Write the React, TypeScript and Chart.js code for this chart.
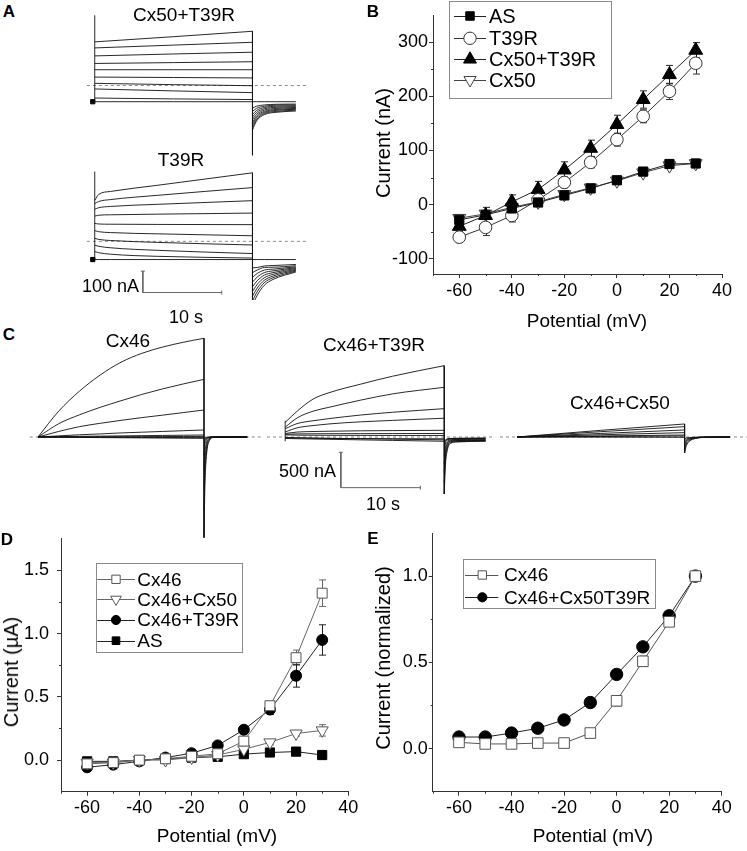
import React, { useEffect, useRef } from 'react';
import { Chart, registerables } from 'chart.js';
import { drawPoint } from 'chart.js/helpers';

Chart.register(...registerables);

const FONT = "'Liberation Sans', Arial, Helvetica, sans-serif";

// ================= DATA =================
const potentials = [-60, -50, -40, -30, -20, -10, 0, 10, 20, 30];
const xTicks = [-60, -40, -20, 0, 20, 40];
const xMinorTicks = [-70, -50, -30, -10, 10, 30];

// Panel B (nA)
const bYTicks = [-100, 0, 100, 200, 300];
const bYMinorTicks = [-50, 50, 150, 250];
const bAS = [-28, -19, -7, 4, 17, 30, 45, 61, 75, 76];
const bASErr = [4, 4, 3, 3, 3, 4, 4, 5, 5, 5];
const bT39R = [-60, -42, -20, 9, 41, 78, 120, 163, 209, 261];
const bT39RErr = [10, 15, 12, 8, 10, 10, 12, 12, 15, 20];
const bCx50T39R = [-40, -20, 5, 28, 64, 104, 148, 194, 240, 285];
const bCx50T39RErr = [10, 15, 13, 15, 15, 15, 17, 16, 17, 14];
const bCx50 = [-25, -17, -5, 5, 19, 31, 44, 59, 72, 76];
const bCx50Err = [5, 4, 3, 3, 3, 4, 4, 5, 5, 6];

// Panel D (µA)
const dYTicks = [0, 0.5, 1.0, 1.5];
const dYMinorTicks = [0.25, 0.75, 1.25];
const dCx46 = [-0.03, -0.02, 0.0, 0.01, 0.03, 0.05, 0.15, 0.43, 0.81, 1.32];
const dCx46Err = [0.01, 0.01, 0.01, 0.01, 0.01, 0.01, 0.03, 0.03, 0.06, 0.105];
const dCx46Cx50 = [-0.02, -0.02, 0.0, 0.0, 0.02, 0.04, 0.085, 0.14, 0.21, 0.235];
const dCx46Cx50Err = [0.01, 0.01, 0.01, 0.02, 0.02, 0.01, 0.02, 0.02, 0.02, 0.045];
const dCx46T39R = [-0.057, -0.036, -0.01, 0.02, 0.054, 0.116, 0.24, 0.40, 0.667, 0.95];
const dCx46T39RErr = [0.01, 0.01, 0.01, 0.01, 0.01, 0.02, 0.02, 0.04, 0.09, 0.12];
const dAS = [-0.01, -0.01, 0.0, 0.01, 0.02, 0.026, 0.047, 0.06, 0.067, 0.04];
const dASErr = [0.01, 0.01, 0.01, 0.01, 0.01, 0.01, 0.01, 0.01, 0.01, 0.01];

// Panel E (normalized)
const eYTicks = [0, 0.5, 1.0];
const eYMinorTicks = [0.25, 0.75];
const eCx46 = [0.036, 0.027, 0.027, 0.032, 0.032, 0.09, 0.277, 0.506, 0.735, 1.0];
const eCx46Err = [0.01, 0.01, 0.02, 0.02, 0.02, 0.01, 0.03, 0.03, 0.01, 0.01];
const eCx46Cx50T39R = [0.067, 0.067, 0.09, 0.118, 0.166, 0.267, 0.43, 0.59, 0.77, 1.0];
const eCx46Cx50T39RErr = [0.01, 0.01, 0.01, 0.01, 0.01, 0.01, 0.01, 0.01, 0.01, 0.01];

// Panel A traces (nA vs s)
const aTopPulseTimes = [0, 10, 20];
const aTopPulse = [
  [202, 226, 251],
  [174, 187, 200],
  [137, 146, 154],
  [102, 106, 110],
  [73, 73, 73],
  [39, 37, 35],
  [10, 4, -1],
  [-16, -25, -33],
  [-58, -62, -65],
  [-75, -75, -75],
];
const aTopTailTimes = [20, 20.5, 21.5, 23, 25.5];
const aTopTail = [
  [-206, -165, -135, -124, -118],
  [-195, -158, -130, -120, -114],
  [-182, -150, -125, -115, -110],
  [-170, -142, -120, -111, -106],
  [-158, -134, -114, -106, -102],
  [-146, -125, -108, -101, -98],
  [-134, -116, -102, -96, -94],
  [-120, -106, -96, -91, -90],
  [-105, -96, -90, -87, -86],
  [-75, -75, -75, -75, -75],
];
const aTopSpikes = [
  [[0, -75], [0, 325]],
  [[20, 251], [20, -323]],
];

const aBotPulseTimes = [0, 0.5, 2, 8, 20];
const aBotPulse = [
  [191, 219, 233, 262, 320],
  [176, 186, 195, 215, 251],
  [150, 157, 163, 173, 190],
  [118, 122, 124, 127, 132],
  [84, 81, 80, 79, 78],
  [50, 45, 41, 35, 26],
  [14, 9, 4, -5, -17],
  [-18, -23, -30, -42, -57],
  [-48, -53, -60, -70, -78],
  [-85, -85, -85, -85, -85],
];
const aBotTailTimes = [20, 20.6, 21.5, 22.6, 25.5];
const aBotTail = [
  [-300, -252, -205, -178, -143],
  [-278, -235, -193, -170, -139],
  [-256, -218, -182, -162, -135],
  [-234, -201, -170, -154, -131],
  [-212, -184, -158, -146, -127],
  [-190, -167, -146, -138, -123],
  [-168, -150, -134, -130, -119],
  [-146, -134, -122, -121, -114],
  [-124, -122, -115, -113, -108],
  [-85, -85, -85, -85, -85],
];
const aBotSpikes = [
  [[0, -85], [0, 326]],
  [[20, 320], [20, -326]],
];
const aScaleNA = 100;
const aScaleS = 10;

// Panel C traces (nA vs s)
const c46PulseTimes = [0, 2.5, 5, 7.5, 10, 12.5, 15, 17.5, 20];
const c46Pulse = [
  [0, 350, 620, 838, 1010, 1130, 1215, 1280, 1334],
  [0, 180, 300, 401, 490, 575, 650, 717, 779],
  [0, 75, 140, 185, 225, 262, 295, 330, 365],
  [0, 15, 30, 42, 55, 65, 75, 85, 95],
  [0, 5, 9, 12, 15, 18, 21, 24, 27],
  [0, 1, 2, 3, 4, 5, 6, 7, 8],
  [0, -2, -3, -4, -5, -6, -7, -8, -9],
  [0, -4, -6, -8, -10, -12, -14, -16, -18],
];
const c46TailTimes = [20, 20.1, 20.3, 20.6, 21.2, 25.2];
const c46Tail = [
  [-1360, -700, -250, -60, -5, 0],
  [-1000, -520, -190, -45, -4, 0],
  [-700, -360, -130, -30, -3, 0],
  [-450, -230, -80, -20, -2, 0],
  [-250, -120, -40, -10, -1, 0],
  [-120, -60, -20, -5, 0, 0],
  [-60, -30, -10, -3, 0, 0],
  [-30, -15, -5, -1, 0, 0],
];
const c46Spikes = [[[20, 1334], [20, -1360]]];

const c46T39RPulseTimes = [0, 1.5, 3.5, 5.5, 9.5, 13.5, 20];
const c46T39RPulse = [
  [207, 365, 536, 626, 748, 860, 1009],
  [140, 270, 365, 420, 522, 610, 703],
  [117, 190, 230, 260, 311, 350, 401],
  [72, 130, 162, 185, 215, 235, 266],
  [50, 70, 78, 82, 88, 91, 95],
  [40, 44, 46, 47, 48, 49, 50],
  [30, 27, 25, 24, 23, 22, 22],
  [-5, -10, -14, -18, -24, -30, -40],
  [-10, -14, -18, -20, -22, -24, -25],
  [-20, -24, -28, -32, -40, -48, -60],
];
const c46T39RTailTimes = [20, 20.15, 20.4, 20.8, 21.6, 25.2];
const c46T39RTail = [
  [-806, -400, -180, -90, -70, -60],
  [-650, -330, -150, -80, -65, -55],
  [-500, -260, -120, -70, -55, -50],
  [-380, -200, -95, -60, -50, -45],
  [-270, -150, -80, -50, -42, -40],
  [-180, -100, -60, -40, -35, -30],
  [-120, -70, -40, -30, -25, -22],
  [-80, -50, -30, -22, -20, -18],
  [-60, -40, -25, -20, -18, -15],
];
const c46T39RSpikes = [
  [[0, -60], [0, 230]],
  [[20, 1009], [20, -806]],
];
const cScaleNA = 500;
const cScaleS = 10;

const c46Cx50PulseTimes = [0, 10, 20];
const c46Cx50Pulse = [
  [0, 90, 176],
  [0, 72, 140],
  [0, 48, 95],
  [0, 30, 59],
  [0, 14, 27],
  [0, 7, 14],
  [0, -2, -4],
];
const c46Cx50TailTimes = [20, 20.2, 20.6, 21.3, 22.6, 25.4];
const c46Cx50Tail = [
  [-216, -120, -55, -20, -5, 0],
  [-170, -95, -45, -16, -4, 0],
  [-130, -70, -33, -12, -3, 0],
  [-90, -50, -24, -9, -2, 0],
  [-55, -30, -15, -6, -1, 0],
  [-25, -14, -7, -3, 0, 0],
];
const c46Cx50Spikes = [[[20, 176], [20, -216]]];

// ================= PLUGINS =================
function makeErrorBars() {
  return {
    id: 'errorBars',
    beforeDatasetsDraw(chart: any) {
      const ctx = chart.ctx;
      const xs = chart.scales.x;
      const ys = chart.scales.y;
      chart.data.datasets.forEach((ds: any) => {
        if (!ds.errors) return;
        ctx.save();
        ctx.strokeStyle = ds.borderColor;
        ctx.lineWidth = 1;
        ds.data.forEach((p: any, j: number) => {
          const e = ds.errors[j];
          if (!e) return;
          const px = Math.round(xs.getPixelForValue(p.x)) + 0.5;
          const y1 = ys.getPixelForValue(p.y + e);
          const y2 = ys.getPixelForValue(p.y - e);
          ctx.beginPath();
          ctx.moveTo(px, y1);
          ctx.lineTo(px, y2);
          ctx.moveTo(px - 3.5, y1);
          ctx.lineTo(px + 3.5, y1);
          ctx.moveTo(px - 3.5, y2);
          ctx.lineTo(px + 3.5, y2);
          ctx.stroke();
        });
        ctx.restore();
      });
    },
  };
}

function makeLegend(cfg: any) {
  return {
    id: 'boxLegend',
    afterDraw(chart: any) {
      const ctx = chart.ctx;
      ctx.save();
      const [bx, by, bw, bh] = cfg.box;
      ctx.strokeStyle = '#8a8a8a';
      ctx.lineWidth = 1;
      ctx.strokeRect(Math.round(bx) + 0.5, Math.round(by) + 0.5, Math.round(bw), Math.round(bh));
      chart.data.datasets.forEach((ds: any) => {
        if (ds.legendRow == null) return;
        const y = cfg.rows[ds.legendRow];
        ctx.strokeStyle = ds.borderColor;
        ctx.lineWidth = 1;
        ctx.beginPath();
        ctx.moveTo(cfg.line[0], Math.round(y) + 0.5);
        ctx.lineTo(cfg.line[1], Math.round(y) + 0.5);
        ctx.stroke();
        ctx.fillStyle = ds.pointBackgroundColor;
        ctx.strokeStyle = ds.pointBorderColor;
        ctx.lineWidth = 1;
        drawPoint(ctx, { pointStyle: ds.pointStyle, rotation: ds.pointRotation || 0, radius: ds.legendRadius, borderWidth: 1 }, cfg.markerX, y);
        ctx.fillStyle = '#000';
        ctx.font = `${cfg.fontSize}px ${FONT}`;
        ctx.textBaseline = 'middle';
        ctx.textAlign = 'left';
        ctx.fillText(ds.label, cfg.textX, y + 1);
      });
      ctx.restore();
    },
  };
}

function makeMinorTicks(xVals: number[], yVals: number[], len: number) {
  return {
    id: 'minorTicks',
    afterDraw(chart: any) {
      const ctx = chart.ctx;
      const xs = chart.scales.x;
      const ys = chart.scales.y;
      const area = chart.chartArea;
      ctx.save();
      ctx.strokeStyle = '#333';
      ctx.lineWidth = 1;
      ctx.beginPath();
      xVals.forEach((v) => {
        const px = Math.round(xs.getPixelForValue(v)) + 0.5;
        ctx.moveTo(px, area.bottom);
        ctx.lineTo(px, area.bottom + len);
      });
      yVals.forEach((v) => {
        const py = Math.round(ys.getPixelForValue(v)) + 0.5;
        ctx.moveTo(area.left, py);
        ctx.lineTo(area.left - len, py);
      });
      ctx.stroke();
      ctx.restore();
    },
  };
}

// ================= CONFIG BUILDERS =================
function pts(times: number[], vals: number[]) {
  return times.map((t, i) => ({ x: t, y: vals[i] }));
}

function ivSeries(label: string, values: number[], errors: number[], style: any) {
  return {
    label,
    data: pts(potentials, values),
    errors,
    showLine: true,
    borderWidth: 1,
    tension: 0,
    pointBorderWidth: 1,
    ...style,
    pointHoverRadius: style.pointRadius,
  };
}

function ivConfig(o: any) {
  const tickFont = { family: FONT, size: 18 };
  const gridOpts = { display: true, drawOnChartArea: false, drawTicks: true, tickLength: 4, tickColor: '#333', tickWidth: 1 };
  return {
    type: 'line',
    data: { datasets: o.datasets },
    options: {
      responsive: false,
      animation: false,
      devicePixelRatio: 1,
      events: [],
      layout: { padding: o.padding },
      plugins: { legend: { display: false }, tooltip: { enabled: false } },
      scales: {
        x: {
          type: 'linear',
          min: o.xMin,
          max: o.xMax,
          afterFit: (s: any) => { s.height = o.xAxisHeight; },
          afterBuildTicks: (s: any) => { s.ticks = xTicks.map((v) => ({ value: v })); },
          ticks: { font: tickFont, color: '#000', padding: 2, maxRotation: 0, autoSkip: false, callback: (v: any) => String(v) },
          grid: gridOpts,
          border: { display: true, color: '#333', width: 1 },
        },
        y: {
          type: 'linear',
          min: o.yMin,
          max: o.yMax,
          afterFit: (s: any) => { s.width = o.yAxisWidth; },
          afterBuildTicks: (s: any) => { s.ticks = o.yTicks.map((v: number) => ({ value: v })); },
          ticks: { font: tickFont, color: '#000', padding: o.yPad, autoSkip: false, callback: (v: any) => Number(v).toFixed(o.yDec) },
          grid: gridOpts,
          border: { display: true, color: '#333', width: 1 },
        },
      },
    },
    plugins: [makeErrorBars(), makeMinorTicks(xMinorTicks, o.minorY, 2), makeLegend(o.legend)],
  };
}

function traceRange(geo: any, t0x: number, pxPerS: number, zeroY: number, pxPerUnit: number) {
  return {
    tmin: (geo.left - t0x) / pxPerS,
    tmax: (geo.left + geo.width - t0x) / pxPerS,
    ymax: (zeroY - geo.top) / pxPerUnit,
    ymin: (zeroY - geo.top - geo.height) / pxPerUnit,
  };
}

function traceConfig(o: any) {
  const ds: any[] = [];
  const line = { borderColor: '#111', borderWidth: 0.9, pointRadius: 0, fill: false };
  o.pulses.forEach((v: number[]) => ds.push({ ...line, cubicInterpolationMode: 'monotone', data: pts(o.pulseTimes, v) }));
  o.tails.forEach((v: number[]) => ds.push({ ...line, cubicInterpolationMode: 'monotone', data: pts(o.tailTimes, v) }));
  o.spikes.forEach((s: number[][]) => ds.push({ ...line, tension: 0, data: s.map(([x, y]) => ({ x, y })) }));
  if (o.scaleBar) {
    const { t, i, dI, dT } = o.scaleBar;
    ds.push({ borderColor: '#666', borderWidth: 1, pointRadius: 0, tension: 0, data: [{ x: t, y: i + dI }, { x: t, y: i }, { x: t + dT, y: i }] });
    ds.push({ showLine: false, pointStyle: 'line', pointRadius: 2, pointBorderColor: '#666', pointBorderWidth: 1, data: [{ x: t, y: i + dI }] });
    ds.push({ showLine: false, pointStyle: 'line', pointRotation: 90, pointRadius: 2, pointBorderColor: '#666', pointBorderWidth: 1, data: [{ x: t + dT, y: i }] });
  }
  if (o.holdMark) {
    ds.push({ showLine: false, pointStyle: 'rect', pointRadius: 3, pointBackgroundColor: '#000', pointBorderColor: '#000', data: [{ x: o.holdMark[0], y: o.holdMark[1] }] });
  }
  ds.push({ borderColor: '#8c8c8c', borderWidth: 1, borderDash: [3, 3], pointRadius: 0, tension: 0, data: [{ x: o.zeroFrom, y: 0 }, { x: o.zeroTo, y: 0 }] });
  const r = o.range;
  return {
    type: 'line',
    data: { datasets: ds },
    options: {
      responsive: false,
      animation: false,
      devicePixelRatio: 1,
      events: [],
      layout: { padding: 0 },
      plugins: { legend: { display: false }, tooltip: { enabled: false } },
      scales: {
        x: { type: 'linear', display: false, min: r.tmin, max: r.tmax },
        y: { type: 'linear', display: false, min: r.ymin, max: r.ymax },
      },
    },
  };
}

// ================= LAYOUT =================
const geoATop = { left: 58, top: 0, width: 262, height: 165 };
const geoABot = { left: 58, top: 160, width: 262, height: 145 };
const geoC1 = { left: 20, top: 325, width: 242, height: 225 };
const geoC2 = { left: 262, top: 325, width: 238, height: 225 };
const geoC3 = { left: 500, top: 325, width: 247, height: 225 };
const geoB = { left: 372, top: 0, width: 375, height: 331 };
const geoD = { left: 0, top: 520, width: 372, height: 326 };
const geoE = { left: 372, top: 520, width: 375, height: 326 };

const rATop = traceRange(geoATop, 91, 8.2, 85.7, 0.23);
const rABot = traceRange(geoABot, 91, 8.2, 242, 0.23);
const rC1 = traceRange(geoC1, 38, 8.3, 437, 0.074);
const rC2 = traceRange(geoC2, 281, 8.3, 437, 0.074);
const rC3 = traceRange(geoC3, 517, 8.38, 437, 0.074);

function ChartBox({ geo, make }: any) {
  const ref = useRef<HTMLCanvasElement>(null);
  useEffect(() => {
    const chart = new Chart(ref.current as HTMLCanvasElement, make());
    return () => chart.destroy();
  }, []);
  return (
    <canvas
      ref={ref}
      width={geo.width}
      height={geo.height}
      style={{ position: 'absolute', left: geo.left, top: geo.top, width: geo.width, height: geo.height }}
    />
  );
}

function Txt({ x, y, children, size = 18, bold = false, align = 'center', rotate = false }: any) {
  const tx = align === 'center' ? '-50%' : align === 'right' ? '-100%' : '0';
  return (
    <div
      style={{
        position: 'absolute',
        left: x,
        top: y,
        transform: `translate(${tx}, -50%)${rotate ? ' rotate(-90deg)' : ''}`,
        fontFamily: FONT,
        fontSize: size,
        fontWeight: bold ? 700 : 400,
        lineHeight: 1,
        whiteSpace: 'nowrap',
        color: '#000',
      }}
    >
      {children}
    </div>
  );
}

const makeATop = () =>
  traceConfig({
    range: rATop,
    pulseTimes: aTopPulseTimes, pulses: aTopPulse,
    tailTimes: aTopTailTimes, tails: aTopTail,
    spikes: aTopSpikes,
    holdMark: [-0.25, -75],
    zeroFrom: -1, zeroTo: 26.8,
  });

const makeABot = () =>
  traceConfig({
    range: rABot,
    pulseTimes: aBotPulseTimes, pulses: aBotPulse,
    tailTimes: aBotTailTimes, tails: aBotTail,
    spikes: aBotSpikes,
    holdMark: [-0.25, -85],
    scaleBar: { t: 6.1, i: -239, dI: aScaleNA, dT: aScaleS },
    zeroFrom: -1, zeroTo: 26.8,
  });

const makeC1 = () =>
  traceConfig({
    range: rC1,
    pulseTimes: c46PulseTimes, pulses: c46Pulse,
    tailTimes: c46TailTimes, tails: c46Tail,
    spikes: c46Spikes,
    zeroFrom: -1, zeroTo: rC1.tmax,
  });

const makeC2 = () =>
  traceConfig({
    range: rC2,
    pulseTimes: c46T39RPulseTimes, pulses: c46T39RPulse,
    tailTimes: c46T39RTailTimes, tails: c46T39RTail,
    spikes: c46T39RSpikes,
    scaleBar: { t: 7.0, i: -716, dI: cScaleNA, dT: cScaleS },
    zeroFrom: rC2.tmin, zeroTo: rC2.tmax,
  });

const makeC3 = () =>
  traceConfig({
    range: rC3,
    pulseTimes: c46Cx50PulseTimes, pulses: c46Cx50Pulse,
    tailTimes: c46Cx50TailTimes, tails: c46Cx50Tail,
    spikes: c46Cx50Spikes,
    zeroFrom: rC3.tmin, zeroTo: rC3.tmax,
  });

const makeB = () =>
  ivConfig({
    datasets: [
      ivSeries('AS', bAS, bASErr, { borderColor: '#222', pointStyle: 'rect', pointRadius: 6.5, pointBackgroundColor: '#000', pointBorderColor: '#000', legendRow: 0, legendRadius: 6 }),
      ivSeries('T39R', bT39R, bT39RErr, { borderColor: '#333', pointStyle: 'circle', pointRadius: 6.3, pointBackgroundColor: '#fff', pointBorderColor: '#333', legendRow: 1, legendRadius: 6.2 }),
      ivSeries('Cx50+T39R', bCx50T39R, bCx50T39RErr, { borderColor: '#222', pointStyle: 'triangle', pointRadius: 8, pointBackgroundColor: '#000', pointBorderColor: '#000', legendRow: 2, legendRadius: 7.5 }),
      ivSeries('Cx50', bCx50, bCx50Err, { borderColor: '#444', pointStyle: 'triangle', pointRotation: 180, pointRadius: 7.5, pointBackgroundColor: '#fff', pointBorderColor: '#444', legendRow: 3, legendRadius: 7 }),
    ],
    xMin: -70, xMax: 40, yMin: -128, yMax: 350, yTicks: bYTicks, minorY: bYMinorTicks, yDec: 0, yPad: 1,
    yAxisWidth: 433 - geoB.left, xAxisHeight: geoB.height - 274,
    padding: { left: 0, top: 15, right: 747 - 722, bottom: 0 },
    legend: { box: [449 - geoB.left, 1, 162, 97], rows: [16, 38.3, 59.3, 80], line: [454 - geoB.left, 486 - geoB.left], markerX: 470 - geoB.left, textX: 489 - geoB.left, fontSize: 20 },
  });

const makeD = () =>
  ivConfig({
    datasets: [
      ivSeries('Cx46', dCx46, dCx46Err, { borderColor: '#666', pointStyle: 'rect', pointRadius: 7, pointBackgroundColor: '#fff', pointBorderColor: '#555', legendRow: 0, legendRadius: 5.9 }),
      ivSeries('Cx46+Cx50', dCx46Cx50, dCx46Cx50Err, { borderColor: '#666', pointStyle: 'triangle', pointRotation: 180, pointRadius: 7, pointBackgroundColor: '#fff', pointBorderColor: '#555', legendRow: 1, legendRadius: 6.2 }),
      ivSeries('Cx46+T39R', dCx46T39R, dCx46T39RErr, { borderColor: '#222', pointStyle: 'circle', pointRadius: 5.5, pointBackgroundColor: '#000', pointBorderColor: '#000', legendRow: 2, legendRadius: 4.6 }),
      ivSeries('AS', dAS, dASErr, { borderColor: '#222', pointStyle: 'rect', pointRadius: 6.5, pointBackgroundColor: '#000', pointBorderColor: '#000', legendRow: 3, legendRadius: 5.4 }),
    ],
    xMin: -70, xMax: 40, yMin: -0.25, yMax: 1.75, yTicks: dYTicks, minorY: dYMinorTicks, yDec: 1, yPad: 8,
    yAxisWidth: 61, xAxisHeight: geoD.top + geoD.height - 791.7,
    padding: { left: 0, top: 533 - geoD.top, right: geoD.width - 348.3, bottom: 0 },
    legend: { box: [96, 562.7 - geoD.top, 145.7, 89], rows: [579.3 - geoD.top, 599.3 - geoD.top, 620 - geoD.top, 640.7 - geoD.top], line: [97.3, 135], markerX: 116, textX: 137.3, fontSize: 19 },
  });

const makeE = () =>
  ivConfig({
    datasets: [
      ivSeries('Cx46', eCx46, eCx46Err, { borderColor: '#555', pointStyle: 'rect', pointRadius: 7.5, pointBackgroundColor: '#fff', pointBorderColor: '#555', legendRow: 0, legendRadius: 5.9 }),
      ivSeries('Cx46+Cx50T39R', eCx46Cx50T39R, eCx46Cx50T39RErr, { borderColor: '#222', pointStyle: 'circle', pointRadius: 6.2, pointBackgroundColor: '#000', pointBorderColor: '#000', legendRow: 1, legendRadius: 4.6 }),
    ],
    xMin: -70, xMax: 40, yMin: -0.25, yMax: 1.25, yTicks: eYTicks, minorY: eYMinorTicks, yDec: 1, yPad: 1,
    yAxisWidth: 432.7 - geoE.left, xAxisHeight: geoE.top + geoE.height - 791.7,
    padding: { left: 0, top: 533 - geoE.top, right: 747 - 721.7, bottom: 0 },
    legend: { box: [463.3 - geoE.left, 559.3 - geoE.top, 192.4, 49], rows: [575 - geoE.top, 597.3 - geoE.top], line: [465 - geoE.left, 498.3 - geoE.left], markerX: 482.3 - geoE.left, textX: 504 - geoE.left, fontSize: 19 },
  });

export default function App() {
  return (
    <div style={{ position: 'absolute', left: 0, top: 0, width: 747, height: 851, background: '#fff', overflow: 'hidden' }}>
      <ChartBox geo={geoATop} make={makeATop} />
      <ChartBox geo={geoABot} make={makeABot} />
      <ChartBox geo={geoC1} make={makeC1} />
      <ChartBox geo={geoC2} make={makeC2} />
      <ChartBox geo={geoC3} make={makeC3} />
      <ChartBox geo={geoB} make={makeB} />
      <ChartBox geo={geoD} make={makeD} />
      <ChartBox geo={geoE} make={makeE} />

      <Txt x={9} y={11} size={17} bold>A</Txt>
      <Txt x={373} y={11} size={17} bold>B</Txt>
      <Txt x={9} y={334} size={17} bold>C</Txt>
      <Txt x={7} y={539} size={17} bold>D</Txt>
      <Txt x={373} y={538} size={17} bold>E</Txt>

      <Txt x={184} y={14} size={19}>Cx50+T39R</Txt>
      <Txt x={181} y={159} size={19}>T39R</Txt>
      <Txt x={139} y={286} size={18} align="right">100 nA</Txt>
      <Txt x={186} y={317} size={18}>10 s</Txt>

      <Txt x={128} y={340} size={19}>Cx46</Txt>
      <Txt x={374} y={344} size={19}>Cx46+T39R</Txt>
      <Txt x={620} y={402} size={19}>Cx46+Cx50</Txt>
      <Txt x={336} y={471} size={18} align="right">500 nA</Txt>
      <Txt x={383} y={504} size={18}>10 s</Txt>

      <Txt x={587} y={320} size={19}>Potential (mV)</Txt>
      <Txt x={383} y={143} size={20} rotate>Current (nA)</Txt>
      <Txt x={217} y={835} size={19}>Potential (mV)</Txt>
      <Txt x={11} y={672} size={20} rotate>Current (µA)</Txt>
      <Txt x={593} y={835} size={19}>Potential (mV)</Txt>
      <Txt x={383} y={658} size={20} rotate>Current (normalized)</Txt>
    </div>
  );
}
